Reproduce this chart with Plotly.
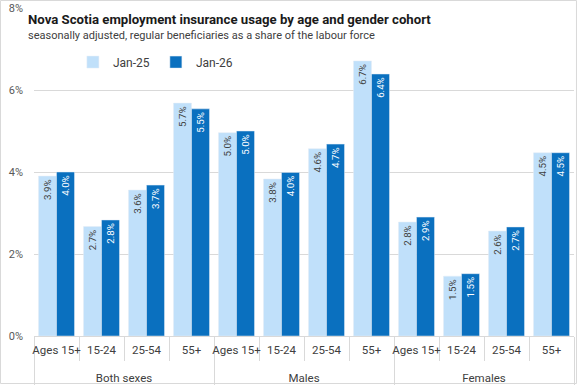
import plotly.graph_objects as go

groups = ["Both sexes"] * 4 + ["Males"] * 4 + ["Females"] * 4
ages = ["Ages 15+", "15-24", "25-54", "55+"] * 3
jan25 = [3.90, 2.67, 3.56, 5.68, 4.96, 3.83, 4.57, 6.71, 2.78, 1.46, 2.56, 4.47]
jan26 = [4.00, 2.83, 3.68, 5.54, 5.00, 3.99, 4.68, 6.39, 2.90, 1.52, 2.66, 4.47]
series_names = ["Jan-25", "Jan-26"]
title = "Nova Scotia employment insurance usage by age and gender cohort"
subtitle = "seasonally adjusted, regular beneficiaries as a share of the labour force"

FONT = "Roboto"
group_labels = ["<br>" + g for g in groups]

fig = go.Figure()
for name, vals, col, tcol in [(series_names[0], jan25, "#C0E0FA", "#404040"),
                              (series_names[1], jan26, "#0A70BF", "#FFFFFF")]:
    fig.add_trace(go.Bar(
        x=[group_labels, ages], y=vals, name=name, marker_color=col,
        text=[f"{v:.1f}%" for v in vals], textposition="inside",
        insidetextanchor="end", textangle=-90,
        textfont=dict(color=tcol, size=10.5, family=FONT),
        cliponaxis=False,
    ))

fig.update_layout(
    width=577, height=385,
    margin=dict(l=34, r=3, t=8, b=49, autoexpand=False),
    paper_bgcolor="white", plot_bgcolor="white",
    barmode="group", bargap=0.2, bargroupgap=0,
    font=dict(family=FONT, color="#404040", size=12),
    uniformtext=dict(minsize=8, mode="show"),
    legend=dict(orientation="h", x=0.072, y=0.835, xanchor="left", yanchor="middle",
                font=dict(size=12, color="#404040"), itemwidth=30,
                bgcolor="rgba(0,0,0,0)", entrywidth=38),
    yaxis=dict(range=[0, 8], dtick=2, tickformat=".0f", ticksuffix="%",
               showgrid=True, gridcolor="#D9D9D9", gridwidth=1,
               zeroline=False, showline=False, automargin=False,
               ticklabelstandoff=10, ticklabeloverflow="allow",
               tickfont=dict(size=11, color="#595959"), ticks=""),
    xaxis=dict(type="multicategory", showline=True, linecolor="#D9D9D9",
               ticks="outside", tickson="boundaries", ticklen=24, tickcolor="#D9D9D9",
               showdividers=True, dividercolor="#D9D9D9", dividerwidth=1,
               tickangle=0, automargin=False, ticklabelstandoff=3,
               tickfont=dict(size=11.5, color="#404040")),
    annotations=[
        dict(text=f"<b>{title}</b>", x=-0.015, y=0.966, xref="paper", yref="paper",
             xanchor="left", yanchor="middle", showarrow=False,
             font=dict(size=13.2, color="#1a1a1a", family=FONT)),
        dict(text=subtitle, x=-0.015, y=0.915, xref="paper", yref="paper",
             xanchor="left", yanchor="middle", showarrow=False,
             font=dict(size=11, color="#404040", family=FONT)),
    ],
    shapes=[dict(type="rect", xref="paper", yref="paper",
                 x0=-0.0620, x1=1.0046, y0=-0.1448, y1=1.0229,
                 line=dict(color="#D9D9D9", width=1), fillcolor="rgba(0,0,0,0)",
                 layer="above")],
)
fig.write_html("out.html", config={"displayModeBar": False},
               post_script="document.body.style.margin='0';")
